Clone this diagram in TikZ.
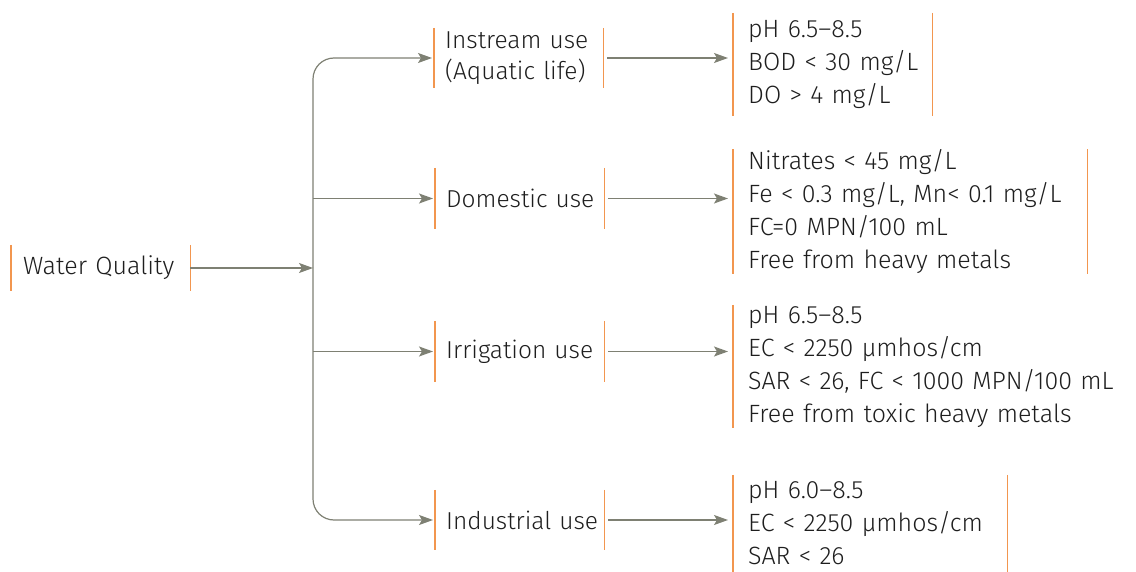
\documentclass[tikz,border=0pt]{standalone}
\usepackage{fontspec}
\setmainfont{Fira Sans Light}
\usetikzlibrary{arrows.meta}
\definecolor{barc}{HTML}{F2964F}
\definecolor{arrc}{HTML}{7E8073}
\definecolor{txtc}{HTML}{1E1E1E}
\tikzset{
  barline/.style={draw=barc, line width=1.5pt},
  box/.style={anchor=west, inner ysep=0pt, align=left, text=txtc,
    font=\fontsize{25}{33}\selectfont},
  midbox/.style={box, inner xsep=11pt, text width=147pt, minimum height=61pt},
  arr/.style={draw=arrc, line width=1.2pt, -{Stealth[length=14pt,width=10pt,inset=3pt]}},
}
\begin{document}
\begin{tikzpicture}[x=1pt,y=1pt]
\clip (0,0) rectangle (1136,-572);
\node[box, inner xsep=12pt, text width=155pt, minimum height=46pt] (wq) at (11,-268) {Water~Quality};
\node[midbox, minimum height=60pt, font=\fontsize{24.5}{31}\selectfont] (i1) at (434,-58) {Instream~use\\(Aquatic~life)};
\node[midbox, font=\fontsize{24.5}{31}\selectfont] (i2) at (435,-198.5) {Domestic~use};
\node[midbox, font=\fontsize{24.5}{31}\selectfont] (i3) at (435,-351.5) {Irrigation~use};
\node[midbox, minimum height=60pt, font=\fontsize{24.5}{31}\selectfont] (i4) at (435,-520) {Industrial~use};
\node[box, inner xsep=15pt, text width=169pt, minimum height=103pt] (r1) at (733,-64.5)
  {pH~6.5–8.5\\BOD~<~30~mg/L\\DO~>~4~mg/L};
\node[box, inner xsep=15pt, text width=324pt, minimum height=123pt] (r2) at (733,-211.5)
  {Nitrates < 45 mg/L\\Fe < 0.3 mg/L, Mn< 0.1 mg/L\\FC=0 MPN/100 mL\\Free from heavy metals};
\node[box, inner xsep=15pt, text width=400pt, minimum height=123pt] (r3) at (733,-366.5)
  {pH 6.5–8.5\\EC < 2250 µmhos/cm\\SAR < 26, FC < 1000 MPN/100 mL\\Free from toxic heavy metals};
\node[box, inner xsep=15pt, text width=244pt, minimum height=97pt] (r4) at (733,-523.5)
  {pH 6.0–8.5\\EC < 2250 µmhos/cm\\SAR < 26};
% orange side bars
\foreach \n in {wq,i1,i2,i3,i4,r1,r2,r3,r4}
  \draw[barline] (\n.north west) -- (\n.south west);
\foreach \n in {wq,i1,i2,i3,i4,r1,r2,r4}
  \draw[barline] (\n.north east) -- (\n.south east);
\coordinate (trunk) at (313,-268);
\draw[arr] (wq.east) -- (trunk);
\draw[arr, rounded corners=21pt, shorten >=2pt] (trunk) |- (i1.west);
\draw[arr, rounded corners=21pt, shorten >=2pt] (trunk) |- (i4.west);
\draw[arr, shorten >=2pt] (i2.west -| trunk) -- (i2.west);
\draw[arr, shorten >=2pt] (i3.west -| trunk) -- (i3.west);
\draw[arr, shorten <=4pt, shorten >=5pt] (i1.east) -- (i1.east -| r1.west);
\draw[arr, shorten <=4pt, shorten >=5pt] (i2.east) -- (i2.east -| r2.west);
\draw[arr, shorten <=4pt, shorten >=5pt] (i3.east) -- (i3.east -| r3.west);
\draw[arr, shorten <=4pt, shorten >=5pt] (i4.east) -- (i4.east -| r4.west);
\end{tikzpicture}
\end{document}
